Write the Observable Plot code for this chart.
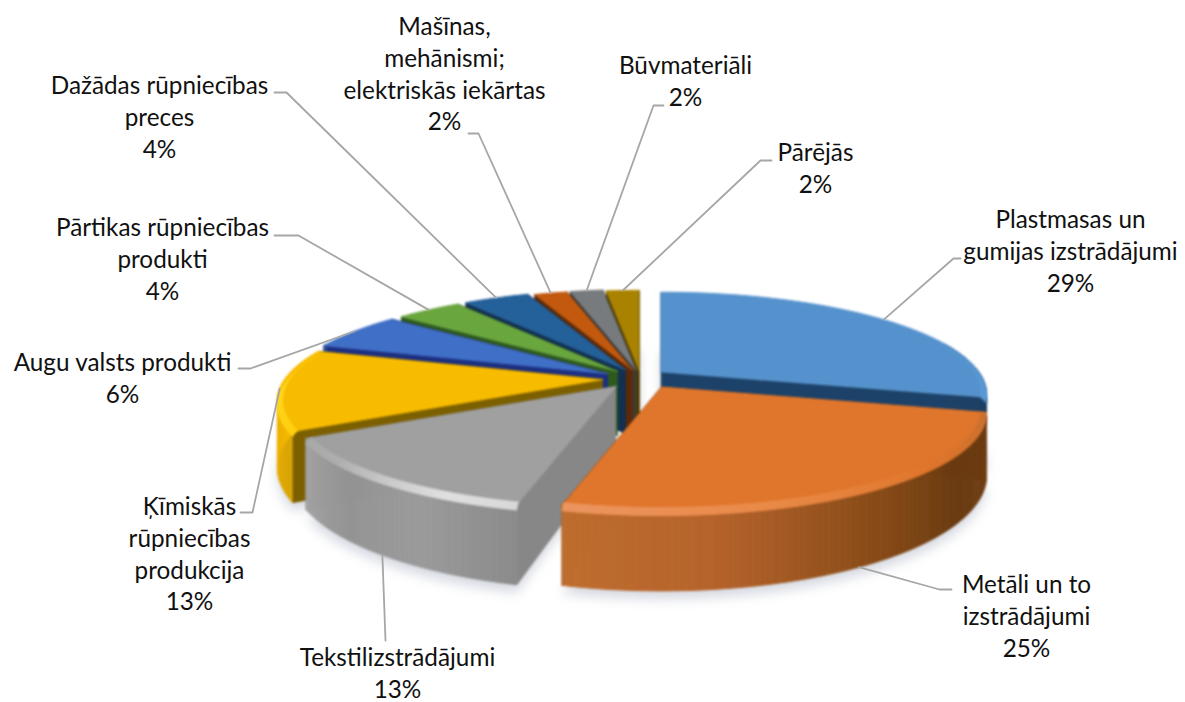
<!DOCTYPE html>
<html>
<head>
<meta charset="utf-8">
<script src="https://cdn.jsdelivr.net/npm/d3@7"></script>
<script src="https://cdn.jsdelivr.net/npm/@observablehq/plot@0.6"></script>
<style>html,body{margin:0;padding:0;background:#fff;overflow:hidden}svg{display:block}</style>
</head>
<body>
<div id="chart"></div>
<script>
// ---- data ----
const categories = [
  "Plastmasas un\ngumijas izstrādājumi",
  "Metāli un to\nizstrādājumi",
  "Tekstilizstrādājumi",
  "Ķīmiskās\nrūpniecības\nprodukcija",
  "Augu valsts produkti",
  "Pārtikas rūpniecības\nprodukti",
  "Dažādas rūpniecības\npreces",
  "Mašīnas,\nmehānismi;\nelektriskās iekārtas",
  "Būvmateriāli",
  "Pārējās"
];
const shares = [29, 25, 13, 13, 6, 4, 4, 2, 2, 2];

// ---- styles ----
const topColors  = ["#5592cd","#e0762c","#a0a0a0","#f7bb00","#3f6fc6","#6aa63e","#24609a","#c2590f","#777b7d","#a98300"];
const wallColors = ["#1d4269","#7a4012","#878787","#7c6000","#1d2f80","#2f5a1e","#123050","#5c2a08","#3c3c3c","#4e3a00"];
const rimStops = [
  ["#234a73","#1d3f63"],
  ["#6d3c12","#6a3a10","#8c4d18","#b4622a","#bf6d2e"],
  ["#8b8b8b","#9a9a9a","#939393","#a3a3a3"],
  ["#d8a200","#eeb200","#ffc600"],
  ["#2c4f96"],["#4a7a2c"],["#1a4570"],["#8a3f0b"],["#555555"],["#745a00"]
];
const bevelStops = [
  ["#4f8bc6","#5a9ad6"],
  ["#c87030","#e0762c","#e98a48","#eb9560"],
  ["#d8d8d8","#e0e0e0","#c8c8c8","#aeaeae","#a8a8a8"],
  ["#ffcf10","#ffd820","#f9c000"],
  ["#3f6fc6"],["#6aa63e"],["#24609a"],["#c2590f"],["#777b7d"],["#a98300"]
];
// small per-slice shifts of the exploded wedges (perspective of the original)
const nudgeX = [-4, 6, 0, 0, 1, 4, 5, 6, 5, 4];
const nudgeY = [0, 0, 0, 0, 0, 0, 0, 1, 1, 2];
// label layout in the chart's own x/y units: text centre, leader elbow, leader end
const labelLayout = [
  {text:[1070,249], elbow:[953,258], end:[960,258]},
  {text:[1026,614], elbow:[939,589], end:[951,589]},
  {text:[397,671],  elbow:[385,640], end:[385,640]},
  {text:[189,552],  elbow:[252,512], end:[240,512]},
  {text:[122,376],  elbow:[250,368], end:[238,368]},
  {text:[162,257],  elbow:[298,235], end:[274,235]},
  {text:[159,115],  elbow:[286,92],  end:[274,92]},
  {text:[444,72],   elbow:[478,133], end:[468,133]},
  {text:[685,79],   elbow:[653,105], end:[663,105]},
  {text:[815,166],  elbow:[760,160], end:[771,160]}
];

// ---- 3-D pie geometry ----
const pie = {cx:637, cy:378, ex:35, ey:10, R:318, Rt:97, k:0.21, h:64};
const rad = d => d * Math.PI / 180;
const total = d3.sum(shares);
let acc = 0;
const slices = shares.map((v, i) => {
  const a0 = acc / total * 360; acc += v; const a1 = acc / total * 360;
  const m = rad((a0 + a1) / 2);
  return {i, a0, a1, mid:(a0 + a1) / 2,
          ax: pie.cx + pie.ex * Math.sin(m) + nudgeX[i], ay: pie.cy - pie.ey * Math.cos(m) + nudgeY[i]};
});
function proj(sl, deg, r = 1, z = 0) {
  const X = Math.sin(rad(deg)) * r, Y = -Math.cos(rad(deg)) * r;
  const s = 1 / (1 - pie.k * Y);
  return [sl.ax + X * pie.R * s, sl.ay + Y * pie.Rt * s + z * pie.h * s];
}
const arcDegs = (a, b, step = 1) => {
  const n = Math.max(2, Math.ceil((b - a) / step)), o = [];
  for (let j = 0; j <= n; j++) o.push(a + (b - a) * j / n);
  return o;
};

const polys = [], shadow = [], bevels = [];
let pid = 0;
const addPoly = (target, pts, c) => { const id = pid++; pts.forEach(p => target.push({x:p[0], y:p[1], id, c})); };

// paint back to front
const order = [9, 8, 7, 6, 5, 4, 3, 2, 0, 1];
for (const i of order) {
  const sl = slices[i];
  const apexB = [sl.ax, sl.ay + pie.h];
  const degs = arcDegs(sl.a0, sl.a1);
  // soft shadow of the base
  addPoly(shadow, [[sl.ax, sl.ay + pie.h + 6], ...degs.map(d => { const p = proj(sl, d, 1, 1); return [p[0], p[1] + 8]; })], "#b4bac8");
  // cut walls
  const e1 = proj(sl, sl.a1), e1b = proj(sl, sl.a1, 1, 1);
  addPoly(polys, [[sl.ax, sl.ay], e1, e1b, apexB], wallColors[i]);
  const e0 = proj(sl, sl.a0), e0b = proj(sl, sl.a0, 1, 1);
  addPoly(polys, [[sl.ax, sl.ay], e0, e0b, apexB], wallColors[i]);
  // outer wall, drawn only where it faces the viewer
  const rimC = rimStops[i].length > 1 ? d3.piecewise(d3.interpolateRgb, rimStops[i]) : () => rimStops[i][0];
  const bevC = bevelStops[i].length > 1 ? d3.piecewise(d3.interpolateRgb, bevelStops[i]) : () => bevelStops[i][0];
  for (let j = 0; j < degs.length - 1; j++) {
    const d0 = degs[j], d1 = degs[j + 1], t = (d0 + d1) / 2, f = (t - sl.a0) / (sl.a1 - sl.a0);
    if (-Math.cos(rad(t)) > -0.32) {
      addPoly(polys, [proj(sl,d0), proj(sl,d1), proj(sl,d1,1,1), proj(sl,d0,1,1)], rimC(f));
    }
  }
  // top face
  addPoly(polys, [[sl.ax, sl.ay], ...degs.map(d => proj(sl, d))], topColors[i]);
  // bevel along the front edge
  for (let j = 0; j < degs.length - 1; j++) {
    const d0 = degs[j], d1 = degs[j + 1], t = (d0 + d1) / 2, f = (t - sl.a0) / (sl.a1 - sl.a0);
    if (i <= 3 && -Math.cos(rad(t)) > -0.28) {
      addPoly(bevels, [proj(sl,d0,0.985), proj(sl,d1,0.985), proj(sl,d1,1,0.07), proj(sl,d0,1,0.07)], bevC(f));
    }
  }
}

// ---- leaders ----
const leaders = [];
slices.forEach((sl, i) => {
  const front = -Math.cos(rad(sl.mid)) > 0.3;
  const start = proj(sl, sl.mid, 1, front ? 1 : 0);
  const L = labelLayout[i];
  [start, L.elbow, L.end].forEach(p => leaders.push({x:p[0], y:p[1], id:i}));
});

const labels = categories.map((c, i) => ({
  label: `${c}\n${shares[i]}%`, x: labelLayout[i].text[0], y: labelLayout[i].text[1]
}));

const chart = Plot.plot({
  width: 1185, height: 702,
  margin: 0, marginTop: 0, marginRight: 0, marginBottom: 0, marginLeft: 0,
  x: {domain: [0, 1185], range: [0, 1185], axis: null},
  y: {domain: [0, 702], range: [0, 702], axis: null},
  style: {background: "#fff"},
  marks: [
    Plot.line(shadow, {x:"x", y:"y", z:"id", fill:{value:"c", scale:null}, stroke:null, fillOpacity:0.55, curve:"linear", imageFilter:"blur(6px)"}),
    Plot.line(polys, {x:"x", y:"y", z:"id", fill:{value:"c", scale:null}, stroke:{value:"c", scale:null}, strokeWidth:1, strokeLinejoin:"round", curve:"linear", imageFilter:"blur(0.8px)"}),
    Plot.line(bevels, {x:"x", y:"y", z:"id", fill:{value:"c", scale:null}, stroke:{value:"c", scale:null}, strokeWidth:1, strokeLinejoin:"round", curve:"linear", imageFilter:"blur(1.3px)"}),
    Plot.line(leaders, {x:"x", y:"y", z:"id", stroke:"#a6a6a6", strokeWidth:1.8, curve:"linear"}),
    Plot.text(labels, {x:"x", y:"y", text:"label", fontFamily:"Lato", fontSize:24.3, lineHeight:1.31, fill:"#111", textAnchor:"middle"})
  ]
});
document.getElementById("chart").appendChild(chart);
</script>
</body>
</html>
